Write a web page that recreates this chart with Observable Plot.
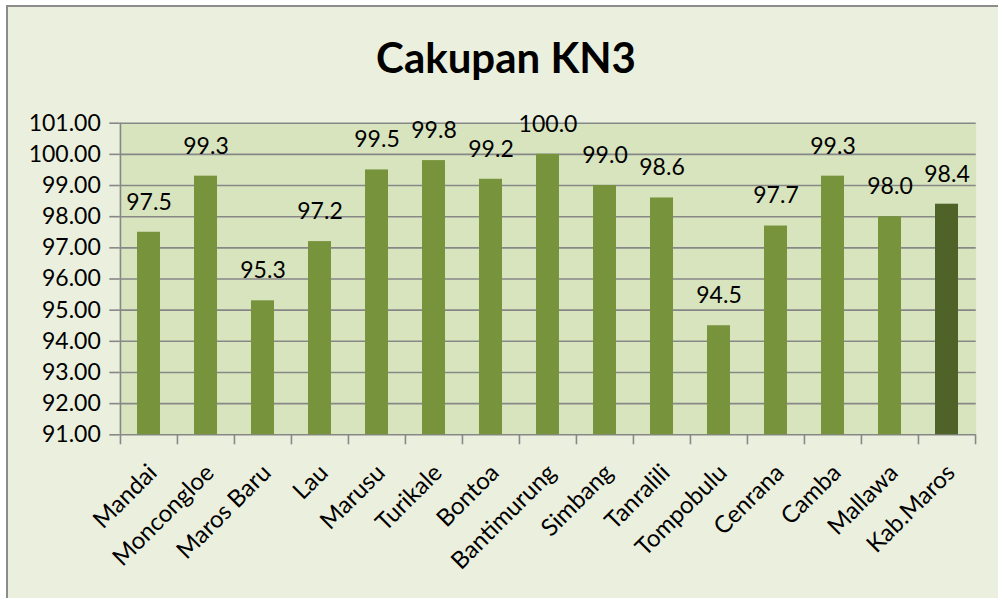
<!DOCTYPE html>
<html>
<head>
<meta charset="utf-8">
<script src="https://cdn.jsdelivr.net/npm/d3@7"></script>
<script src="https://cdn.jsdelivr.net/npm/@observablehq/plot@0.6"></script>
<style>
  html, body { margin: 0; padding: 0; background: #ffffff; width: 998px; height: 598px; overflow: hidden; }
  #frame { position: absolute; left: 6px; top: 5px; width: 1100px; height: 700px;
           background: #ebf0de; border-left: 2px solid #8c8c8c; border-top: 2px solid #8c8c8c; }
  #title { position: absolute; left: 0; width: 1012px; top: 32px; text-align: center;
           font-family: Lato, sans-serif; font-weight: bold; font-size: 42px; line-height: 50px; color: #000; }
  #chart { position: absolute; left: 0; top: 100px; }
</style>
</head>
<body>
<div id="frame"></div>
<div id="title">Cakupan KN3</div>
<div id="chart"></div>
<script>
const categories = ["Mandai","Moncongloe","Maros Baru","Lau","Marusu","Turikale","Bontoa","Bantimurung","Simbang","Tanralili","Tompobulu","Cenrana","Camba","Mallawa","Kab.Maros"];
const values = [97.5, 99.3, 95.3, 97.2, 99.5, 99.8, 99.2, 100.0, 99.0, 98.6, 94.5, 97.7, 99.3, 98.0, 98.4];
const yTicks = [91, 92, 93, 94, 95, 96, 97, 98, 99, 100, 101];
const highlight = "Kab.Maros";

const data = categories.map((c, i) => ({category: c, value: values[i]}));
const normal = data.filter(d => d.category !== highlight);
const total = data.filter(d => d.category === highlight);

const W = 998, H = 498;
const ml = 119.3, mr = 22.3, mt = 22.7, mb = 163.7;
const step = (W - ml - mr) / categories.length;
const yMin = yTicks[0], yMax = yTicks[yTicks.length - 1];
const gridColor = "#878787";

const chart = Plot.plot({
  width: W, height: H,
  marginLeft: ml, marginRight: mr, marginTop: mt, marginBottom: mb,
  style: {fontFamily: "Lato, sans-serif", background: "transparent", color: "#000", overflow: "visible"},
  x: {domain: categories, paddingInner: 0.6, paddingOuter: 0.3},
  y: {domain: [yMin, yMax]},
  marks: [
    Plot.frame({fill: "#d7e4bd", stroke: null}),
    Plot.ruleY(yTicks, {stroke: gridColor, strokeWidth: 1.6}),
    Plot.ruleX([categories[0]], {y1: yMin, y2: yMax, dx: -step / 2, stroke: gridColor, strokeWidth: 1.6}),
    Plot.barY(normal, {x: "category", y1: yMin, y2: "value", fill: "#77933c"}),
    Plot.barY(total, {x: "category", y1: yMin, y2: "value", fill: "#4f6228"}),
    Plot.text(data, {x: "category", y: "value", text: d => d.value.toFixed(1), dy: -30, fontSize: 23, fill: "#000"}),
    Plot.axisY(yTicks, {tickSize: 10, tickPadding: 9, tickFormat: d => d.toFixed(2), fontSize: 23, stroke: gridColor, strokeWidth: 1.6, fill: "#000", label: null}),
    Plot.axisX({tickSize: 10, tickFormat: () => "", dx: -step / 2, stroke: gridColor, strokeWidth: 1.6, label: null}),
    Plot.axisX([categories[categories.length - 1]], {tickSize: 10, tickFormat: () => "", dx: step / 2, stroke: gridColor, strokeWidth: 1.6, label: null}),
    Plot.axisX({tickSize: 0, tickRotate: -45, tickPadding: 34, dx: 4, fontSize: 24, fill: "#000", label: null})
  ]
});
document.getElementById("chart").appendChild(chart);
</script>
</body>
</html>
